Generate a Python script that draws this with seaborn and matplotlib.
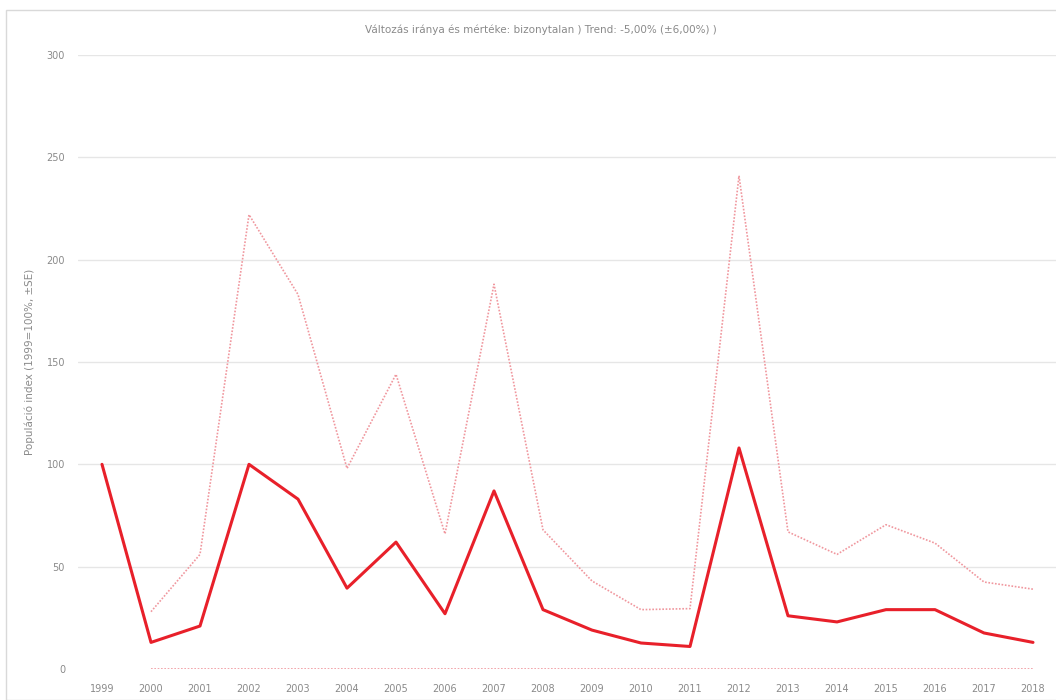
import matplotlib
matplotlib.use("Agg")
import matplotlib.pyplot as plt
import matplotlib.patches as mpatches
import numpy as np
import pandas as pd
import seaborn as sns

years = list(range(1999, 2019))
index_values = [100, 13, 21, 100, 83, 39.5, 62, 27, 87, 29, 19, 12.7, 11, 108, 26, 23, 29, 29, 17.6, 13]
upper_se = [np.nan, 28, 56, 222, 183, 98, 144, 66, 188, 68, 43, 29, 29.5, 241, 67, 56, 70.5, 61.5, 42.5, 39]
lower_se = [np.nan, 0, 0, 0, 0, 0, 0, 0, 0, 0, 0, 0, 0, 0, 0, 0, 0, 0, 0, 0]
y_ticks = [0, 50, 100, 150, 200, 250, 300]

title_text = "Változás iránya és mértéke: bizonytalan ) Trend: -5,00% (±6,00%) )"
y_label = "Populáció index (1999=100%, ±SE)"

sns.set_theme(style="white")
plt.rcParams['font.family'] = ['DejaVu Sans']

df = pd.DataFrame({
    "pos": np.arange(len(years)),
    "index": index_values,
    "upper": upper_se,
    "lower": lower_se,
})

fig = plt.figure(figsize=(10.56, 7.0), dpi=100)
fig.patch.set_facecolor("white")
ax = fig.add_axes([77.5 / 1056, 1 - 669 / 700, 980 / 1056, 614 / 700])

grid_color = "#e6e6e6"
for t in y_ticks[1:]:
    ax.axhline(t, color=grid_color, lw=1.0, zorder=0)

band_color = "#f0979e"
sns.lineplot(data=df, x="pos", y="upper", ax=ax, color=band_color, lw=1.2,
             linestyle=(0, (1, 1)), zorder=2)
sns.lineplot(data=df, x="pos", y="lower", ax=ax, color=band_color, lw=1.2,
             linestyle=(0, (1, 1)), zorder=2)
sns.lineplot(data=df, x="pos", y="index", ax=ax, color="#e8202a", lw=2.2, zorder=3)

ax.set_xlim(-0.5, len(years) - 0.5)
ax.set_ylim(0, 300)
ax.set_xticks(np.arange(len(years)))
ax.set_xticklabels([str(y) for y in years])
ax.set_yticks(y_ticks)
ax.tick_params(axis="both", length=0, labelsize=7, colors="#8a8a8a")
ax.tick_params(axis="x", pad=11)
ax.tick_params(axis="y", pad=9)
ax.set_xlabel("")
ax.set_ylabel(y_label, fontsize=7.5, color="#8a8a8a", labelpad=8)
for s in ax.spines.values():
    s.set_visible(False)

fig.text(0.512, 1 - 30 / 700, title_text, ha="center", va="center",
         fontsize=7.5, color="#8a8a8a")

# chart frame
fig.patches.append(mpatches.Rectangle((6 / 1056, 0), 1.0, 1 - 10 / 700,
                                      transform=fig.transFigure, fill=False,
                                      edgecolor="#d9d9d9", lw=1.0))

fig.savefig("out.png", dpi=100, facecolor="white")
